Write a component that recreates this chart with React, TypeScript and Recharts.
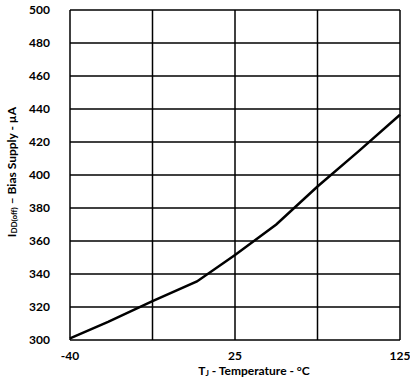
import React from 'react';
import { LineChart, Line, XAxis, YAxis, CartesianGrid } from 'recharts';

// Junction temperature (°C) and bias supply current (µA)
const temperatures = [-40, -25, -7.5, 10, 25, 50, 75, 100, 125];
const biasSupply = [301, 311, 323.5, 335.5, 351.5, 370, 393, 414.5, 436.5];

// Labeled x ticks (the axis is split in two halves: -40..25 and 25..125)
const xTickTemps = [-40, 25, 125];
const xTickLabels = ['-40', '25', '125'];
const yTicks = [300, 320, 340, 360, 380, 400, 420, 440, 460, 480, 500];

const toPos = (t: number) => (t <= 25 ? (t + 40) / 65 : 1 + (t - 25) / 100);
const xGridPos = [0, 0.5, 1, 1.5, 2];

const data = temperatures.map((t, i) => ({ pos: toPos(t), value: biasSupply[i] }));

const FONT = 'Lato, "Open Sans", sans-serif';
const tickStyle = { fill: '#000', fontSize: 12, fontWeight: 'bold', fontFamily: FONT };

const xFormatter = (v: number) => {
  const idx = xTickTemps.findIndex((t) => Math.abs(toPos(t) - v) < 1e-6);
  return idx >= 0 ? xTickLabels[idx] : '';
};

const YLabel = () => (
  <text
    x={11}
    y={172}
    transform="rotate(-90, 11, 172)"
    textAnchor="middle"
    dominantBaseline="central"
    style={{ fontFamily: FONT, fontWeight: 'bold', fontSize: 12, fill: '#000' }}
  >
    I<tspan dy={3} fontSize={8}>DD(off)</tspan>
    <tspan dy={-3}> – Bias Supply - µA</tspan>
  </text>
);

const XLabel = () => (
  <text
    x={254}
    y={370}
    textAnchor="middle"
    dominantBaseline="central"
    style={{ fontFamily: FONT, fontWeight: 'bold', fontSize: 12, fill: '#000' }}
  >
    T<tspan dy={3} fontSize={8}>J</tspan>
    <tspan dy={-3}> - Temperature - °C</tspan>
  </text>
);

export default function App() {
  return (
    <div style={{ position: 'absolute', left: 0, top: 0, background: '#fff' }}>
      <LineChart
        width={410}
        height={386}
        data={data}
        margin={{ top: 10, right: 10, left: 0, bottom: 0 }}
      >
        <CartesianGrid stroke="#000" strokeWidth={1.5} strokeOpacity={1} />
        <XAxis
          dataKey="pos"
          type="number"
          domain={[0, 2]}
          ticks={xGridPos}
          interval={0}
          tickFormatter={xFormatter}
          axisLine={false}
          tickLine={false}
          tick={tickStyle}
          tickMargin={5}
          height={46}
          label={<XLabel />}
        />
        <YAxis
          type="number"
          domain={[300, 500]}
          ticks={yTicks}
          interval={0}
          axisLine={false}
          tickLine={false}
          tick={tickStyle}
          tickMargin={14}
          width={70}
          label={<YLabel />}
        />
        <Line
          type="linear"
          dataKey="value"
          stroke="#000"
          strokeWidth={2.5}
          dot={false}
          isAnimationActive={false}
        />
      </LineChart>
    </div>
  );
}
